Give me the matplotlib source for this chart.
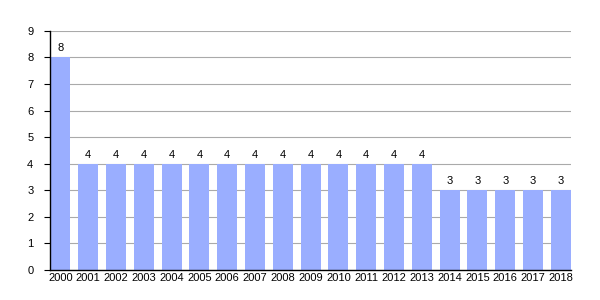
import matplotlib
matplotlib.use('Agg')
import matplotlib.pyplot as plt

# Anos e valores
anos = [str(a) for a in range(2000, 2019)]
valores = [8, 4, 4, 4, 4, 4, 4, 4, 4, 4, 4, 4, 4, 4, 3, 3, 3, 3, 3]

plt.rcParams['font.family'] = ['Liberation Sans', 'DejaVu Sans']

fig = plt.figure(figsize=(6, 3), dpi=100)
ax = fig.add_axes([0.0833, 0.1, 0.8687, 0.797])

x = range(len(anos))
bars = ax.bar(x, valores, width=0.72, color='#9aaeff', zorder=2)
for xi, v in zip(x, valores):
    ax.text(xi, v + 0.15, str(v), ha='center', va='bottom', fontsize=8)

ax.set_ylim(0, 9)
ax.set_xlim(-0.37, len(anos) - 1 + 0.37)
ax.set_yticks(range(0, 10))
ax.set_xticks(list(x))
ax.set_xticklabels(anos)
ax.tick_params(axis='x', length=0, labelsize=8, pad=2)
ax.tick_params(axis='y', length=4, labelsize=8, pad=8)
ax.grid(axis='y', color='#aaaaaa', linewidth=0.8, zorder=1)
for s in ['top', 'right']:
    ax.spines[s].set_visible(False)
ax.spines['left'].set_linewidth(1)
ax.spines['bottom'].set_linewidth(1)

plt.savefig('out.png', dpi=100)
